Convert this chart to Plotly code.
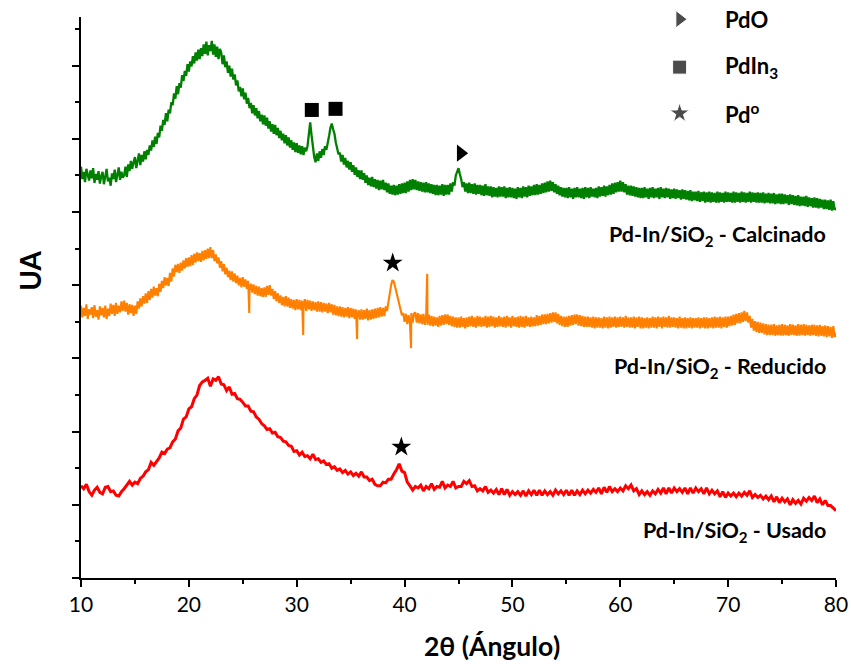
import numpy as np
import plotly.graph_objects as go

# 2-theta scans, 10..80 deg
fine_start, fine_step = 10.0, 0.125     # calcinado / reducido
coarse_start, coarse_step = 10.0, 0.25  # usado

calcinado = [
1124,1090,1110,1082,1118,1096,1086,1114, 1092,1120,1080,1104,1088,1112,1078,1098,
1110,1076,1100,1118,1084,1094,1072,1106, 1090,1116,1082,1104,1122,1088,1110,1094,
1100,1124,1096,1130,1112,1140,1118,1136, 1150,1120,1142,1160,1128,1156,1138,1166,
1144,1170,1156,1182,1168,1196,1178,1206, 1186,1216,1204,1236,1222,1252,1238,1270,
1248,1280,1270,1300,1292,1324,1310,1344, 1322,1352,1340,1374,1358,1386,1372,1404,
1384,1412,1398,1426,1406,1436,1414,1444, 1418,1448,1426,1458,1432,1466,1428,1456,
1440,1468,1430,1458,1424,1452,1418,1446, 1436,1404,1428,1396,1412,1380,1400,1370,
1392,1362,1376,1346,1360,1330,1342,1316, 1338,1308,1326,1296,1312,1284,1298,1270,
1292,1264,1284,1256,1276,1248,1266,1240, 1264,1236,1258,1228,1248,1220,1240,1214,
1238,1210,1230,1202,1222,1196,1214,1188, 1210,1182,1204,1176,1196,1170,1190,1164,
1188,1162,1182,1158,1180,1156,1176,1166, 1180,1215,1245,1210,1176,1150,1136,1160,
1140,1166,1148,1172,1156,1180,1170,1196, 1208,1230,1242,1226,1214,1190,1176,1158,
1162,1138,1156,1130,1148,1122,1140,1116, 1136,1110,1128,1102,1122,1096,1114,1090,
1114,1088,1106,1080,1100,1074,1094,1070, 1096,1068,1090,1064,1088,1060,1086,1062,
1088,1060,1080,1054,1078,1050,1072,1048, 1074,1046,1072,1048,1076,1050,1078,1052,
1080,1052,1084,1056,1088,1060,1090,1062, 1088,1060,1084,1058,1082,1056,1080,1054,
1082,1054,1078,1052,1076,1050,1074,1046, 1074,1046,1072,1048,1076,1044,1074,1048,
1074,1048,1078,1056,1082,1072,1100,1112, 1120,1104,1090,1068,1082,1056,1078,1052,
1080,1052,1076,1050,1078,1048,1074,1050, 1074,1046,1072,1044,1076,1046,1070,1044,
1070,1040,1068,1042,1066,1040,1070,1042, 1068,1042,1070,1038,1066,1040,1068,1040,
1066,1038,1064,1036,1068,1040,1066,1038, 1070,1042,1068,1040,1072,1044,1070,1046,
1074,1046,1076,1048,1074,1050,1078,1052, 1080,1054,1084,1056,1086,1058,1082,1054,
1076,1050,1072,1046,1068,1042,1066,1040, 1066,1038,1068,1040,1064,1036,1066,1040,
1068,1040,1064,1038,1066,1036,1068,1040, 1066,1038,1068,1042,1064,1040,1066,1038,
1070,1042,1068,1044,1072,1042,1070,1046, 1074,1048,1078,1050,1080,1054,1082,1056,
1086,1056,1082,1054,1076,1048,1072,1046, 1072,1044,1070,1042,1068,1040,1066,1038,
1066,1038,1068,1040,1064,1036,1066,1040, 1068,1038,1064,1040,1066,1036,1068,1040,
1064,1038,1066,1040,1064,1036,1062,1038, 1064,1036,1062,1038,1060,1034,1062,1036,
1060,1034,1058,1032,1060,1030,1056,1032, 1056,1030,1058,1028,1054,1030,1056,1026,
1054,1028,1056,1026,1054,1028,1052,1026, 1056,1026,1054,1028,1052,1026,1056,1028,
1054,1028,1052,1026,1056,1026,1054,1028, 1052,1026,1056,1028,1054,1026,1052,1028,
1056,1026,1054,1028,1052,1026,1054,1026, 1052,1026,1054,1024,1050,1026,1052,1024,
1050,1024,1052,1022,1048,1024,1050,1022, 1050,1022,1048,1024,1046,1020,1048,1022,
1046,1020,1044,1018,1046,1016,1042,1018, 1042,1016,1044,1014,1040,1016,1038,1012,
1040,1012,1038,1010,1036,1012,1034,1008, 1034,1008,1032,1006,1034,1004,1030,1006,
1012]

reducido = [
744,712,738,716,748,708,734,720, 740,710,746,714,732,706,742,718,
738,712,744,708,736,716,750,722, 746,716,752,722,744,726,756,730,
758,728,752,720,748,724,746,716, 744,722,756,736,764,742,770,750,
778,752,784,760,790,766,796,772, 792,770,804,782,812,792,822,800,
820,798,834,810,846,824,856,836, 858,834,862,840,868,846,874,850,
876,852,882,856,886,862,890,866, 888,864,894,868,896,872,900,874,
904,874,896,866,884,860,876,848, 866,838,858,830,848,822,840,814,
838,810,832,806,826,800,820,794, 822,796,816,790,812,786,804,780,
802,776,798,772,796,770,792,768, 794,768,798,774,800,772,790,762,
784,756,778,752,772,746,768,742, 770,742,766,738,762,736,760,732,
762,734,760,732,758,736,762,730, 760,734,758,730,756,732,754,728,
756,728,754,726,752,728,750,724, 752,726,748,720,746,718,742,716,
742,714,740,712,738,714,740,710, 738,712,736,708,734,710,732,706,
734,706,732,708,736,704,732,706, 734,708,736,710,738,712,740,714,
738,716,742,730,756,778,800,814, 810,796,778,762,744,734,718,724,
700,722,694,718,696,724,698,722, 726,698,724,696,720,694,722,692,
718,692,720,690,716,688,714,690, 712,686,716,690,718,692,720,694,
720,692,716,688,714,686,712,684, 712,684,714,686,710,682,712,686,
714,688,716,686,712,684,716,688, 714,686,712,688,716,684,714,686,
716,688,714,684,712,686,716,688, 712,686,714,684,716,688,712,684,
716,688,712,686,714,684,716,686, 714,684,716,688,712,686,714,688,
712,688,718,690,716,692,720,694, 720,694,722,696,724,698,726,700,
726,696,722,692,716,688,714,686, 714,686,716,690,718,692,720,694,
720,690,718,688,716,686,714,686, 714,686,712,684,714,682,712,684,
712,684,710,682,714,684,712,682, 714,684,712,686,714,684,712,686,
714,686,712,684,716,686,712,684, 712,684,714,682,712,686,714,682,
712,682,710,684,712,682,710,684, 714,684,712,682,714,686,712,682,
714,686,712,684,716,684,712,686, 712,684,710,682,714,684,710,682,
712,682,710,684,712,682,710,684, 710,684,712,682,710,684,712,682,
712,682,710,684,712,682,714,684, 712,684,714,682,712,686,714,684,
714,688,716,690,720,692,722,696, 724,696,726,700,730,702,726,698,
716,684,708,676,702,672,700,670, 698,670,696,666,694,664,692,664,
692,664,694,662,690,664,692,662, 694,662,692,664,690,662,694,664,
692,664,690,662,694,662,692,664, 694,662,692,664,690,662,692,664,
692,662,690,660,692,662,688,660, 690,658,688,660,686,656,688,658,
670]
# narrow spikes in the reduced pattern
reducido_spike_x = [25.6, 30.6, 35.6, 40.6, 42.1]
reducido_spike_y = [724, 664, 653, 628, 831]

usado = [
252,244,256,236, 226,240,248,234, 230,248,250,236, 238,226,224,236,
244,254,264,254, 262,258,272,278, 290,296,316,308, 318,328,344,340,
352,356,372,380, 402,410,434,440, 462,468,490,500, 526,536,540,546,
524,544,540,550, 530,528,512,522, 502,504,490,488, 480,470,470,456,
454,440,434,422, 416,406,408,396, 398,386,384,374, 372,362,360,346,
348,336,344,332, 334,326,338,324, 326,316,320,310, 312,300,304,294,
298,288,294,284, 290,280,286,278, 290,276,276,266, 270,256,252,252,
262,260,270,270, 284,296,312,292, 288,262,252,240, 250,246,254,238,
250,244,258,242, 250,248,264,246, 254,250,264,246, 250,250,264,258,
266,250,252,238, 244,238,250,234, 240,232,242,228, 244,228,242,226,
236,228,236,226, 238,224,238,228, 240,226,240,226, 238,228,236,226,
240,230,238,228, 240,226,240,226, 238,228,240,230, 240,232,242,234,
246,230,248,234, 250,236,244,236, 246,238,252,244, 254,238,244,228,
238,228,236,226, 238,230,242,232, 246,230,246,232, 246,236,244,234,
246,230,246,232, 246,236,244,230, 246,230,240,230, 238,222,236,220,
232,224,232,222, 232,224,234,226, 238,220,228,220, 226,216,224,214,
224,208,222,206, 218,208,216,200, 214,204,212,202, 218,210,220,212,
224,206,216,200, 212,198,198,190, 184]

# phase markers (peak positions, 2theta)
pdin3_x, pdin3_y = [31.4, 33.6], [1279, 1282]
pdo_x, pdo_y = [45.2], [1161]
pd_x, pd_y = [38.9, 39.7], [861, 358]
# key
key_x = [65.5, 65.5, 65.5]
key_y = [1527, 1396, 1270]
key_symbols = ["triangle-right", "square", "star"]
key_sizes = [15, 14, 15]
key_labels = ["PdO", "PdIn<sub>3</sub>", "Pd<sup>o</sup>"]
key_text_x = 69.5

series_labels = ["Pd-In/SiO<sub>2</sub> - Calcinado", "Pd-In/SiO<sub>2</sub> - Reducido",
                 "Pd-In/SiO<sub>2</sub> - Usado"]
series_label_y = [937, 576, 126]

x_fine = fine_start + fine_step * np.arange(len(calcinado))
x_coarse = coarse_start + coarse_step * np.arange(len(usado))

# merge spikes into reduced pattern
xr = np.concatenate([x_fine, reducido_spike_x])
yr = np.concatenate([reducido, reducido_spike_y])
order = np.argsort(xr, kind="stable")
xr, yr = xr[order], yr[order]

FONT = "Lato"
fig = go.Figure()
fig.add_trace(go.Scatter(x=x_fine, y=calcinado, mode="lines", line=dict(color="#008000", width=2.3)))
fig.add_trace(go.Scatter(x=xr, y=yr, mode="lines", line=dict(color="#FF8000", width=2.1)))
fig.add_trace(go.Scatter(x=x_coarse, y=usado, mode="lines", line=dict(color="#FF0000", width=3)))

fig.add_trace(go.Scatter(x=pdin3_x, y=pdin3_y, mode="markers",
                         marker=dict(symbol="square", size=14, color="black")))
fig.add_trace(go.Scatter(x=pdo_x, y=pdo_y, mode="markers",
                         marker=dict(symbol="triangle-right", size=15, color="black")))
fig.add_trace(go.Scatter(x=pd_x, y=pd_y, mode="markers",
                         marker=dict(symbol="star", size=15, color="black")))
fig.add_trace(go.Scatter(x=key_x, y=key_y, mode="markers", cliponaxis=False,
                         marker=dict(symbol=key_symbols, size=key_sizes, color="black")))

for lab, yy in zip(key_labels, key_y):
    fig.add_annotation(x=key_text_x, y=yy, text="<b>" + lab + "</b>", showarrow=False,
                       xanchor="left", yanchor="middle", font=dict(family=FONT, size=22, color="black"))
for lab, yy in zip(series_labels, series_label_y):
    fig.add_annotation(xref="paper", x=0.989, y=yy, text="<b>" + lab + "</b>", showarrow=False,
                       xanchor="right", yanchor="middle", font=dict(family=FONT, size=21.5, color="black"))

fig.add_annotation(xref="paper", yref="paper", x=0.544, y=-0.1533, text="<b>2θ (Ángulo)</b>",
                   showarrow=False, xanchor="center", yanchor="bottom",
                   font=dict(family=FONT, size=26.5, color="black"))
fig.add_annotation(xref="paper", yref="paper", x=-0.068, y=0.547, text="<b>UA</b>", textangle=-90,
                   showarrow=False, xanchor="center", yanchor="middle",
                   font=dict(family=FONT, size=28, color="black"))

fig.update_layout(
    width=851, height=664, showlegend=False,
    margin=dict(l=81, r=15, t=17, b=86, autoexpand=False),
    plot_bgcolor="white", paper_bgcolor="white",
    font=dict(family=FONT, color="black"),
)
fig.update_xaxes(range=[10, 80], dtick=10, tick0=10, showgrid=False, zeroline=False, automargin=False,
                 showline=True, linecolor="black", linewidth=2, ticks="outside", ticklen=7,
                 tickwidth=2, tickcolor="black", tickfont=dict(family=FONT, size=21, color="black"),
                 minor=dict(dtick=5, ticks="outside", ticklen=4, tickwidth=1.5, tickcolor="black"))
fig.update_yaxes(range=[0, 1533], dtick=200, tick0=0, showgrid=False, zeroline=False, automargin=False,
                 showline=True, linecolor="black", linewidth=2, ticks="outside", ticklen=7,
                 tickwidth=2, tickcolor="black", showticklabels=False,
                 minor=dict(dtick=100, ticks="outside", ticklen=4, tickwidth=1.5, tickcolor="black"))

fig.write_html("out.html", config={"displayModeBar": False},
               post_script="document.body.style.margin='0';")
